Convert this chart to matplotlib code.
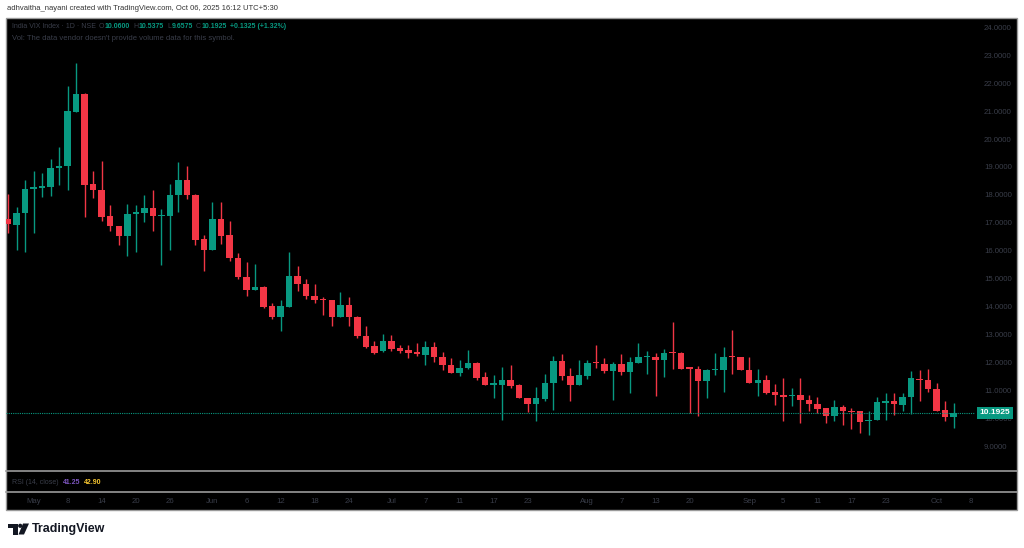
import matplotlib
matplotlib.use("Agg")
import matplotlib.pyplot as plt
import matplotlib.transforms as mtransforms
from matplotlib.patches import Rectangle, Polygon, Circle
import numpy as np
import pandas as pd

plt.rcParams['font.family'] = ['Liberation Sans', 'DejaVu Sans']

# India VIX daily candles, 28 Apr 2025 - 06 Oct 2025
opens = [17.15, 16.93, 17.34, 18.20, 18.24, 18.30, 18.95, 19.02, 20.98, 21.62,
         18.40, 18.19, 17.23, 16.88, 16.51, 17.32, 17.36, 17.54, 17.24, 17.26,
         17.99, 18.53, 18.01, 16.43, 16.04, 17.15, 16.55, 15.75, 15.06, 14.61,
         14.71, 14.01, 13.64, 14.00, 15.08, 14.82, 14.39, 14.28, 14.24, 13.64,
         14.04, 13.64, 12.96, 12.58, 12.42, 12.78, 12.52, 12.45, 12.39, 12.28,
         12.56, 12.21, 11.92, 11.63, 11.80, 11.98, 11.47, 11.21, 11.21, 11.38,
         11.19, 10.73, 10.50, 10.70, 11.25, 12.06, 11.52, 11.19, 11.53, 11.99,
         11.95, 11.68, 11.95, 11.66, 11.99, 12.20, 12.21, 12.10, 12.36, 12.34,
         11.80, 11.77, 11.35, 11.73, 11.73, 12.20, 12.18, 11.74, 11.27, 11.38,
         10.93, 10.85, 10.79, 10.84, 10.66, 10.53, 10.36, 10.09, 10.39, 10.26,
         10.25, 9.90, 9.94, 10.56, 10.61, 10.49, 10.77, 11.40, 11.37, 11.05,
         10.30, 10.06]
highs = [18.04, 17.58, 18.55, 18.84, 18.78, 19.29, 19.71, 21.89, 22.72, 21.65,
         18.87, 19.23, 17.64, 16.90, 17.66, 17.64, 18.00, 18.19, 17.51, 18.40,
         19.18, 19.02, 18.03, 16.55, 17.73, 17.73, 17.05, 15.92, 15.61, 15.52,
         14.75, 14.13, 14.25, 15.97, 15.47, 14.99, 14.80, 14.36, 14.25, 14.51,
         14.33, 13.66, 13.32, 12.76, 13.02, 12.99, 12.64, 12.64, 12.70, 12.78,
         12.72, 12.36, 12.16, 12.10, 12.43, 12.03, 11.67, 11.55, 11.85, 11.92,
         11.22, 10.74, 11.11, 11.57, 12.22, 12.29, 11.79, 12.10, 12.09, 12.63,
         12.16, 12.03, 12.32, 12.18, 12.70, 12.42, 12.34, 12.48, 13.46, 12.36,
         11.81, 11.89, 11.77, 12.34, 12.54, 13.15, 12.19, 12.21, 11.77, 11.56,
         11.23, 11.44, 11.08, 11.44, 10.84, 10.77, 10.37, 10.67, 10.49, 10.37,
         10.26, 10.25, 10.75, 10.91, 10.91, 10.91, 11.68, 11.74, 11.77, 11.26,
         10.63, 10.5375]
lows = [16.63, 16.04, 15.97, 16.63, 17.92, 17.95, 18.35, 18.16, 20.95, 17.20,
        17.88, 17.07, 16.71, 16.20, 15.80, 15.97, 17.02, 16.69, 15.50, 16.04,
        17.40, 17.85, 16.19, 15.29, 16.02, 16.25, 15.65, 14.99, 14.37, 14.60,
        13.95, 13.56, 13.11, 13.99, 14.55, 14.28, 14.12, 13.71, 13.32, 13.63,
        13.29, 12.89, 12.52, 12.30, 12.36, 12.40, 12.33, 12.16, 12.24, 11.92,
        12.03, 11.74, 11.61, 11.50, 11.78, 11.37, 11.20, 10.71, 9.95, 11.09,
        10.73, 10.21, 9.91, 10.61, 10.31, 11.38, 10.61, 11.18, 11.41, 11.80,
        11.64, 10.66, 11.55, 10.91, 11.98, 11.59, 10.79, 11.47, 11.75, 11.76,
        10.18, 10.09, 10.71, 11.55, 10.93, 11.59, 11.72, 11.27, 10.81, 10.87,
        10.49, 9.91, 10.43, 9.85, 10.27, 10.19, 9.85, 9.91, 9.77, 9.62,
        9.49, 9.40, 9.93, 9.95, 10.12, 10.27, 10.15, 10.61, 10.93, 10.25,
        9.91, 9.6575]
closes = [16.94, 17.36, 18.22, 18.27, 18.33, 18.98, 19.04, 21.00, 21.62, 18.37,
          18.18, 17.20, 16.87, 16.51, 17.33, 17.38, 17.54, 17.24, 17.27, 18.01,
          18.53, 17.99, 16.40, 16.04, 17.15, 16.53, 15.73, 15.05, 14.61, 14.69,
          14.00, 13.64, 14.01, 15.08, 14.81, 14.37, 14.25, 14.23, 13.64, 14.04,
          13.62, 12.94, 12.57, 12.34, 12.78, 12.48, 12.42, 12.35, 12.29, 12.56,
          12.18, 11.91, 11.63, 11.81, 11.98, 11.44, 11.20, 11.23, 11.38, 11.16,
          10.73, 10.50, 10.71, 11.28, 12.06, 11.50, 11.19, 11.54, 11.97, 11.97,
          11.68, 11.95, 11.66, 12.00, 12.21, 12.22, 12.10, 12.35, 12.33, 11.77,
          11.78, 11.35, 11.73, 11.75, 12.21, 12.18, 11.74, 11.27, 11.38, 10.91,
          10.84, 10.75, 10.81, 10.66, 10.51, 10.33, 10.09, 10.39, 10.25, 10.24,
          9.88, 9.93, 10.57, 10.61, 10.51, 10.77, 11.43, 11.37, 11.05, 10.27,
          10.06, 10.1925]

holidays = ['2025-05-01', '2025-08-15', '2025-08-27', '2025-10-02']
tick_dates = ['2025-05-02', '2025-05-08', '2025-05-14', '2025-05-20', '2025-05-26',
              '2025-06-02', '2025-06-06', '2025-06-12', '2025-06-18', '2025-06-24',
              '2025-07-01', '2025-07-07', '2025-07-11', '2025-07-17', '2025-07-23',
              '2025-08-01', '2025-08-07', '2025-08-13', '2025-08-20',
              '2025-09-01', '2025-09-05', '2025-09-11', '2025-09-17', '2025-09-23',
              '2025-10-01', '2025-10-08']
tick_labels = ['May', '8', '14', '20', '26', 'Jun', '6', '12', '18', '24',
               'Jul', '7', '11', '17', '23', 'Aug', '7', '13', '20',
               'Sep', '5', '11', '17', '23', 'Oct', '8']
price_ticks = [9, 10, 11, 12, 13, 14, 15, 16, 17, 18, 19, 20, 21, 22, 23, 24]

last_price = 10.1925
rsi_values = ['41.25', '42.90']

UP = '#089981'
DOWN = '#F23645'
DIM = '#3a3e4a'

days = pd.bdate_range('2025-04-28', '2025-10-08')
days = days[~days.isin(pd.to_datetime(holidays))]
day_pos = {d.strftime('%Y-%m-%d'): i for i, d in enumerate(days)}

W, H = 1024, 548
fig = plt.figure(figsize=(W / 100, H / 100), dpi=100, facecolor='white')


def box(x0, y0, x1, y1):
    # pixel box (top-left origin) -> figure fraction rect
    return [x0 / W, 1 - y1 / H, (x1 - x0) / W, (y1 - y0) / H]


def chain(prev, s, gap, **kw):
    # put a text right after the previous one
    return bg.annotate(s, xy=(1, 0.5), xycoords=prev, xytext=(gap, 0),
                       textcoords='offset pixels', ha='left', va='center', **kw)


# background / frame in pixel units
bg = fig.add_axes([0, 0, 1, 1], zorder=0)
bg.set_xlim(0, W)
bg.set_ylim(H, 0)
bg.axis('off')
bg.add_patch(Rectangle((6, 18), 1011, 492, fc='black', ec='#9a9a9a', lw=1))
bg.plot([6, 1017], [471, 471], color='#9a9a9a', lw=1.2)
bg.plot([6, 1017], [492, 492], color='#9a9a9a', lw=1.2)

bg.text(7, 8, 'adhvaitha_nayani created with TradingView.com, Oct 06, 2025 16:12 UTC+5:30',
        fontsize=5.5, color='#333333', va='center', ha='left')

# header inside the chart
fs = 5.0
t = bg.text(12, 26, 'India VIX Index · 1D · NSE', fontsize=fs, color=DIM, va='center')
for lab, val in [('O', '10.0600'), ('H', '10.5375'), ('L', '9.6575'), ('C', '10.1925')]:
    t = chain(t, lab, 3, fontsize=fs, color=DIM)
    t = chain(t, val, 0.5, fontsize=fs, color=UP, fontweight='bold')
chain(t, '+0.1325 (+1.32%)', 3, fontsize=fs, color=UP, fontweight='bold')
bg.text(12, 38, "Vol: The data vendor doesn't provide volume data for this symbol.",
        fontsize=5.5, color=DIM, va='center')

# RSI pane text
t = bg.text(12, 482, 'RSI (14, close)', fontsize=fs, color=DIM, va='center')
t = chain(t, rsi_values[0], 4, fontsize=fs, color='#7E57C2', fontweight='bold')
chain(t, rsi_values[1], 4, fontsize=fs, color='#F7C631', fontweight='bold')

# TradingView logo
bg.add_patch(Polygon([(7.5, 523.5), (17.5, 523.5), (17.5, 534.5), (13, 534.5),
                      (13, 528), (7.5, 528)], closed=True, fc='#131722', ec='none'))
bg.add_patch(Circle((20.2, 525.8), 2.1, fc='#131722', ec='none'))
bg.add_patch(Polygon([(23, 523.5), (29, 523.5), (24, 534.5), (18.5, 534.5)],
                     closed=True, fc='#131722', ec='none'))
bg.text(32, 529, 'TradingView', fontsize=9, color='#131722', va='center',
        fontweight='bold')

# main candle pane
ax = fig.add_axes(box(6, 18, 975, 471), zorder=1)
ax.set_facecolor('none')
for s in ax.spines.values():
    s.set_visible(False)

o = np.array(opens)
h = np.array(highs)
l = np.array(lows)
c = np.array(closes)
x = np.arange(len(o))
col = np.where(c >= o, UP, DOWN)

ax.vlines(x, l, h, colors=col, lw=1.0)
body_lo = np.minimum(o, c)
body_h = np.maximum(np.abs(c - o), 0.04)
ax.bar(x, body_h, bottom=body_lo, width=0.76, color=col, linewidth=0)

ax.axhline(last_price, color=UP, lw=0.8, ls=(0, (1, 1)))

ax.set_xlim(-0.235, 113.5)
ax.set_ylim(8.114, 24.333)
ax.set_xticks([])
ax.yaxis.tick_right()
ax.set_yticks(price_ticks)
ax.set_yticklabels(['%.4f' % p for p in price_ticks])
ax.tick_params(axis='y', length=0, pad=6.5, labelsize=5.6, labelcolor=DIM)

trans = mtransforms.blended_transform_factory(ax.transAxes, ax.transData)
ax.annotate('%.4f' % last_price, xy=(1.0, last_price), xycoords=trans,
            xytext=(4.5, 0), textcoords='offset pixels', ha='left', va='center',
            fontsize=6, color='white', fontweight='bold', zorder=10,
            annotation_clip=False,
            bbox=dict(boxstyle='square,pad=0.35', fc=UP, ec='none'))

# RSI pane (empty) carrying the time axis
rsi = fig.add_axes(box(6, 471, 975, 492), zorder=1)
rsi.set_facecolor('none')
for s in rsi.spines.values():
    s.set_visible(False)
rsi.set_xlim(-0.235, 113.5)
rsi.set_yticks([])
rsi.set_xticks([day_pos[d] for d in tick_dates])
rsi.set_xticklabels(tick_labels)
rsi.tick_params(axis='x', length=0, pad=4, labelsize=5.6, labelcolor=DIM)

fig.savefig('out.png', dpi=100, facecolor='white')
